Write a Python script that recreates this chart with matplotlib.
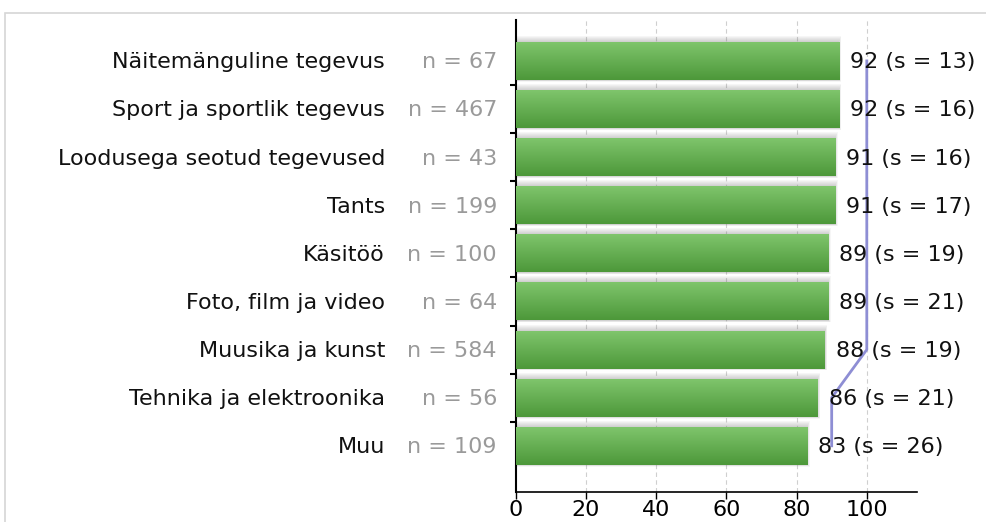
import matplotlib
matplotlib.use('Agg')
import matplotlib.pyplot as plt
from matplotlib.patches import Rectangle
import numpy as np

categories = ['Näitemänguline tegevus', 'Sport ja sportlik tegevus', 'Loodusega seotud tegevused',
              'Tants', 'Käsitöö', 'Foto, film ja video', 'Muusika ja kunst',
              'Tehnika ja elektroonika', 'Muu']
n_counts = [67, 467, 43, 199, 100, 64, 584, 56, 109]
means = [92, 92, 91, 91, 89, 89, 88, 86, 83]
sds = [13, 16, 16, 17, 19, 21, 19, 21, 26]
medians = [100, 100, 100, 100, 100, 100, 100, 90, 90]
xticks = [0, 20, 40, 60, 80, 100]

plt.rcParams['font.family'] = 'DejaVu Sans'
fs = 16

fig = plt.figure(figsize=(9.86, 5.22), dpi=100)
# light frame around the chart
fig.patches.append(Rectangle((5 / 986, -0.1), 1.2, 1 - 13 / 522 + 0.1, transform=fig.transFigure,
                             fill=False, edgecolor='#d6d6d6', linewidth=1.2))
ax = fig.add_axes([515.7 / 986, 1 - 492 / 522, 401.3 / 986, 472 / 522])

y = np.arange(len(categories))
h = 0.79
px = 1 / 48.1  # one pixel in y data units

# gradient image used to fill each bar
grad = np.linspace(0, 1, 64).reshape(-1, 1)
top_c = np.array([0x80, 0xc6, 0x6d]) / 255
bot_c = np.array([0x4d, 0x98, 0x3a]) / 255
img = top_c + (bot_c - top_c) * grad[:, :, None] * np.ones((1, 1, 3))

for yi, m in zip(y, means):
    # soft shadow: stacked translucent grey boxes, mostly above the bar
    for k in range(1, 7):
        ax.add_patch(Rectangle((0, yi - h / 2 - k * px), m + k * 0.12,
                               h + k * px * 1.3, facecolor='#707070', alpha=0.06,
                               edgecolor='none', zorder=1))
    bar = ax.barh(yi, m, height=h, color='none', edgecolor='none', zorder=3)[0]
    im = ax.imshow(img, extent=(0, m, yi + h / 2, yi - h / 2), aspect='auto', zorder=3)
    im.set_clip_path(bar)

ax.plot(medians, y, color='#8e8ed4', linewidth=2, zorder=4)

tr = ax.get_yaxis_transform()
for yi, c, n, m, s in zip(y, categories, n_counts, means, sds):
    ax.text(-0.3257, yi + 0.03, c, transform=tr, ha='right', va='center', fontsize=fs,
            color='#111111')
    ax.text(-0.0466, yi + 0.03, f'n = {n}', transform=tr, ha='right', va='center', fontsize=fs,
            color='#9a9a9a')
    ax.annotate(f'{m} (s = {s})', (m, yi + 0.03), xytext=(8, 0), textcoords='offset points',
                ha='left', va='center', fontsize=fs, color='#111111', zorder=5)

ax.set_xlim(0, 114.3)
ax.set_ylim(8.96, -0.85)
ax.set_xticks(xticks)
ax.set_xticklabels([str(t) for t in xticks], fontsize=fs)
ax.set_yticks(np.arange(len(categories) - 1) + 0.5)
ax.set_yticklabels([])
ax.tick_params(axis='y', length=4, width=1.5, direction='out')
ax.tick_params(axis='x', length=5, width=1, direction='out', pad=1)
for xt in xticks[1:]:
    ax.axvline(xt, color='#cfcfcf', linestyle=(0, (4, 3)), linewidth=0.8, zorder=0)
ax.spines['top'].set_visible(False)
ax.spines['right'].set_visible(False)
ax.spines['left'].set_linewidth(1.5)
ax.spines['bottom'].set_linewidth(1.2)

plt.savefig('out.png', dpi=100)
